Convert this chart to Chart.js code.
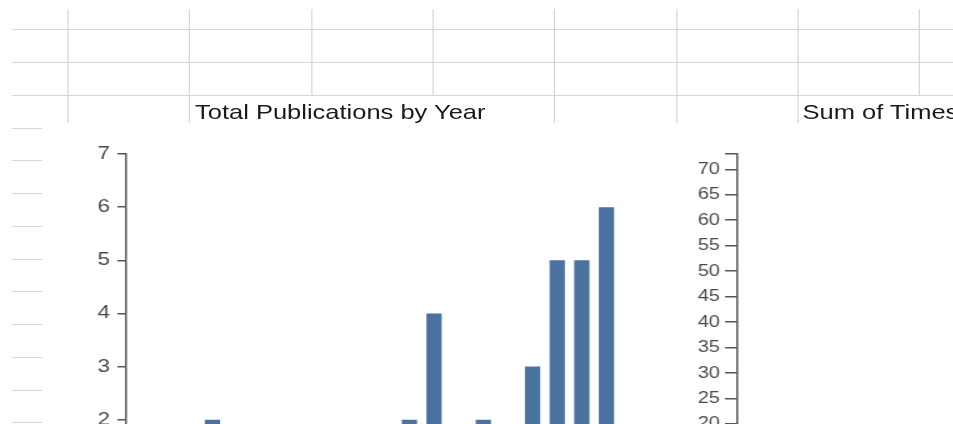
<!DOCTYPE html>
<html>
<head>
<meta charset="utf-8">
<script src="https://cdn.jsdelivr.net/npm/chart.js@4/dist/chart.umd.min.js"></script>
<style>
  html, body { margin: 0; padding: 0; background: #fff; overflow: hidden; width: 953px; height: 424px; }
  /* the picture is stretched sideways, so the whole sheet is drawn narrow and scaled */
  #sheet { position: absolute; left: 0; top: 0; width: 763px; height: 424px; transform: scaleX(1.25); transform-origin: 0 0; }
  .h { position: absolute; height: 1px; background: #d6d6d6; }
  .v { position: absolute; width: 1px; background: #d6d6d6; }
  .cell { position: absolute; font-family: Arial, "Liberation Sans", sans-serif; font-size: 20.4px; line-height: 20px; color: #1a1a1a; white-space: nowrap; }
  #pic { position: absolute; left: 34px; top: 123px; width: 760px; height: 320px; background: #fff; }
  canvas { position: absolute; }
</style>
</head>
<body>
<div id="sheet">
  <div id="grid"></div>
  <div class="cell" style="left:156px; top:102px;">Total Publications by Year</div>
  <div class="cell" style="left:642px; top:102px;">Sum of Times Cited by Year</div>
  <div id="pic"></div>
  <canvas id="pubs" width="461" height="433" style="left:34px; top:123px;"></canvas>
  <canvas id="cites" width="444" height="432" style="left:540px; top:124px;"></canvas>
</div>
<script>
var years = ['1995','1996','1997','1998','1999','2000','2001','2002','2003','2004',
             '2005','2006','2007','2008','2009','2010','2011','2012','2013','2014'];
var publications = [0, 0, 0, 2, 0, 0, 0, 0, 0, 0, 0, 2, 4, 0, 2, 0, 3, 5, 5, 6];
var timesCited = [0, 0, 0, 0, 1, 2, 3, 5, 4, 6, 8, 12, 15, 20, 28, 35, 41, 52, 60, 73];
var pubTicks = [0, 1, 2, 3, 4, 5, 6, 7];
var citeTicks = [0, 5, 10, 15, 20, 25, 30, 35, 40, 45, 50, 55, 60, 65, 70, 73];

// spreadsheet lines behind the pasted chart
var grid = document.getElementById('grid');
[29, 62, 95].forEach(function (y) {
    grid.insertAdjacentHTML('beforeend', '<div class="h" style="left:10px; top:' + y + 'px; width:760px;"></div>');
});
[128, 160, 193, 226, 259, 291, 324, 357, 390, 422].forEach(function (y) {
    grid.insertAdjacentHTML('beforeend', '<div class="h" style="left:10px; top:' + y + 'px; width:24px;"></div>');
});
[[54, 123], [151, 123], [249, 95], [346, 95], [443, 123], [541, 123], [638, 123], [735, 95]].forEach(function (c) {
    grid.insertAdjacentHTML('beforeend', '<div class="v" style="left:' + c[0] + 'px; top:9px; height:' + (c[1] - 9) + 'px;"></div>');
});

var barColor = '#4a729e';
var axisColor = '#555555';

function yAxis(max, ticks, width, size, tickLen, pad) {
    return {
        min: 0,
        max: max,
        afterBuildTicks: function (scale) {
            scale.ticks = ticks.map(function (v) { return { value: v }; });
        },
        afterFit: function (scale) { scale.width = width; },
        border: { color: axisColor, width: 1.5 },
        grid: { drawOnChartArea: false, tickLength: tickLen, tickColor: axisColor, lineWidth: 1.5 },
        ticks: {
            color: '#4a4a4a',
            padding: pad,
            font: { family: 'Arial, "Liberation Sans", sans-serif', size: size },
            callback: function (v) { return v % (max > 10 ? 5 : 1) === 0 ? v : ''; }
        }
    };
}

function xAxis() {
    return {
        afterFit: function (scale) { scale.height = 30; },
        border: { color: axisColor, width: 1.5 },
        grid: { display: false },
        ticks: { display: false }
    };
}

new Chart(document.getElementById('pubs'), {
    type: 'bar',
    data: {
        labels: years,
        datasets: [{ data: publications, backgroundColor: barColor, barPercentage: 0.62, categoryPercentage: 1 }]
    },
    options: {
        responsive: false,
        animation: false,
        layout: { padding: { top: 31, left: 0, right: 0, bottom: 0 } },
        plugins: { legend: { display: false }, tooltip: { enabled: false } },
        scales: { x: xAxis(), y: yAxis(7, pubTicks, 67, 18, 7, 6) }
    }
});

new Chart(document.getElementById('cites'), {
    type: 'bar',
    data: {
        labels: years,
        datasets: [{ data: timesCited, backgroundColor: barColor, barPercentage: 0.62, categoryPercentage: 1 }]
    },
    options: {
        responsive: false,
        animation: false,
        layout: { padding: { top: 30, left: 0, right: 0, bottom: 0 } },
        plugins: { legend: { display: false }, tooltip: { enabled: false } },
        scales: { x: xAxis(), y: yAxis(73, citeTicks, 50, 16, 10, 4) }
    }
});
</script>
</body>
</html>
